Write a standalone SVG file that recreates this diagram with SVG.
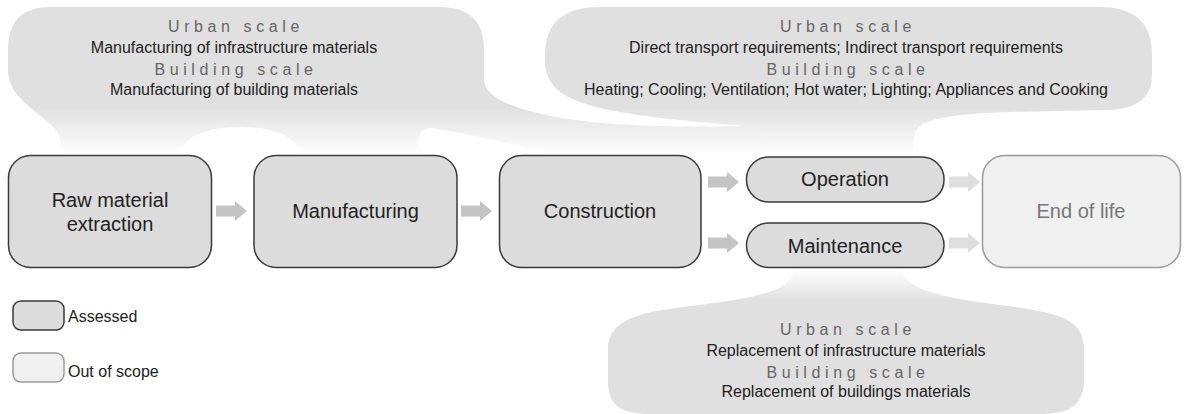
<svg xmlns="http://www.w3.org/2000/svg" width="1184" height="414" viewBox="0 0 1184 414">
<style>
.node{fill:#dcdcdc;stroke:#3a3a3a;stroke-width:1.5}
.out{fill:#f0f0f0;stroke:#9a9a9a;stroke-width:1.5}
.lbl{font-family:"Liberation Sans",Arial,sans-serif;font-size:20px;fill:#222;text-anchor:middle}
.lblo{font-family:"Liberation Sans",Arial,sans-serif;font-size:20px;fill:#777;text-anchor:middle}
.ttl{font-family:"Liberation Sans",Arial,sans-serif;font-size:16px;fill:#666;letter-spacing:4.6px;text-anchor:middle}
.txt{font-family:"Liberation Sans",Arial,sans-serif;font-size:16px;fill:#222;text-anchor:middle}
.leg{font-family:"Liberation Sans",Arial,sans-serif;font-size:16px;fill:#222}
.arr{fill:#c4c4c4}
.arrl{fill:#dedede}
</style>
<defs>
<linearGradient id="fadeTop" gradientUnits="userSpaceOnUse" x1="0" y1="108" x2="0" y2="154">
<stop offset="0" stop-color="#e0e0e0"/>
<stop offset="1" stop-color="#ffffff"/>
</linearGradient>
<linearGradient id="fadeBot" gradientUnits="userSpaceOnUse" x1="0" y1="270" x2="0" y2="300">
<stop offset="0" stop-color="#ffffff"/>
<stop offset="1" stop-color="#e0e0e0"/>
</linearGradient>
<path id="arrow" d="M0,-5.5 H19 V-10 L31,0 L19,10 V5.5 H0 Z"/>
</defs>

<g id="bubbles">
<g id="bubble-top-left">
<path fill="url(#fadeTop)" d="M50 7 H440 Q484 7 484 50 V78 C484 94 500 106 560 118 C620 128 720 128 790 124 L790 157 H560 C530 148 460 132 432 128 C418 127 414 142 425 157 H300 C300 140 280 127 240 127 C200 127 180 140 180 157 H62 C62 145 62 135 50 124 C30 106 10 96 8 72 V50 Q8 7 50 7 Z"/>
<text class="ttl" x="236" y="32">Urban scale</text>
<text class="txt" x="234" y="53">Manufacturing of infrastructure materials</text>
<text class="ttl" x="236" y="75">Building scale</text>
<text class="txt" x="234" y="95">Manufacturing of building materials</text>
</g>
<g id="bubble-top-right">
<path fill="url(#fadeTop)" d="M600 7 H1100 Q1152 7 1152 55 V75 Q1152 108 1110 110 C1000 112 940 112 920 126 C912 134 912 146 915 157 H780 C782 145 780 134 768 128 C740 125 650 120 600 108 C560 98 545 85 545 60 V55 Q545 7 600 7 Z"/>
<text class="ttl" x="848" y="32">Urban scale</text>
<text class="txt" x="846" y="53">Direct transport requirements; Indirect transport requirements</text>
<text class="ttl" x="848" y="75">Building scale</text>
<text class="txt" x="846" y="95">Heating; Cooling; Ventilation; Hot water; Lighting; Appliances and Cooking</text>
</g>
<g id="bubble-bottom">
<path fill="#e0e0e0" d="M700 305 C650 311 608 315 608 350 V380 C608 405 620 414 650 414 H1040 C1070 414 1084 405 1084 380 V350 C1084 318 1060 313 1000 305 Z"/>
<path fill="url(#fadeBot)" d="M793 266 C795 285 780 295 700 305 H1000 C920 295 905 285 900 266 Z"/>
<text class="ttl" x="848" y="335">Urban scale</text>
<text class="txt" x="846" y="356">Replacement of infrastructure materials</text>
<text class="ttl" x="848" y="378">Building scale</text>
<text class="txt" x="846" y="397">Replacement of buildings materials</text>
</g>
</g>

<g id="connectors">
<use href="#arrow" class="arr" x="216" y="211"/>
<use href="#arrow" class="arr" x="461" y="211"/>
<use href="#arrow" class="arr" x="708" y="182"/>
<use href="#arrow" class="arr" x="708" y="243"/>
<use href="#arrow" class="arrl" x="949" y="182"/>
<use href="#arrow" class="arrl" x="949" y="243"/>
</g>

<g id="node-raw">
<rect class="node" x="8.5" y="155.5" width="203" height="112" rx="22"/>
<text class="lbl" x="110" y="207">Raw material</text>
<text class="lbl" x="110" y="231">extraction</text>
</g>
<g id="node-manufacturing">
<rect class="node" x="254" y="155.5" width="203" height="112" rx="22"/>
<text class="lbl" x="355.5" y="218">Manufacturing</text>
</g>
<g id="node-construction">
<rect class="node" x="499.5" y="155.5" width="201.5" height="112" rx="22"/>
<text class="lbl" x="600" y="218">Construction</text>
</g>
<g id="node-operation">
<rect class="node" x="746.5" y="157" width="197.5" height="45" rx="22"/>
<text class="lbl" x="845" y="186">Operation</text>
</g>
<g id="node-maintenance">
<rect class="node" x="746.5" y="223" width="197.5" height="44.5" rx="22"/>
<text class="lbl" x="845" y="252.5">Maintenance</text>
</g>
<g id="node-end-of-life">
<rect class="out" x="982.5" y="155.5" width="198" height="112" rx="22"/>
<text class="lblo" x="1081" y="218">End of life</text>
</g>

<g id="legend">
<rect class="node" x="13" y="301" width="51" height="29" rx="8"/>
<text class="leg" x="68" y="322">Assessed</text>
<rect class="out" x="13" y="353" width="51" height="29" rx="8"/>
<text class="leg" x="68" y="377">Out of scope</text>
</g>
</svg>
